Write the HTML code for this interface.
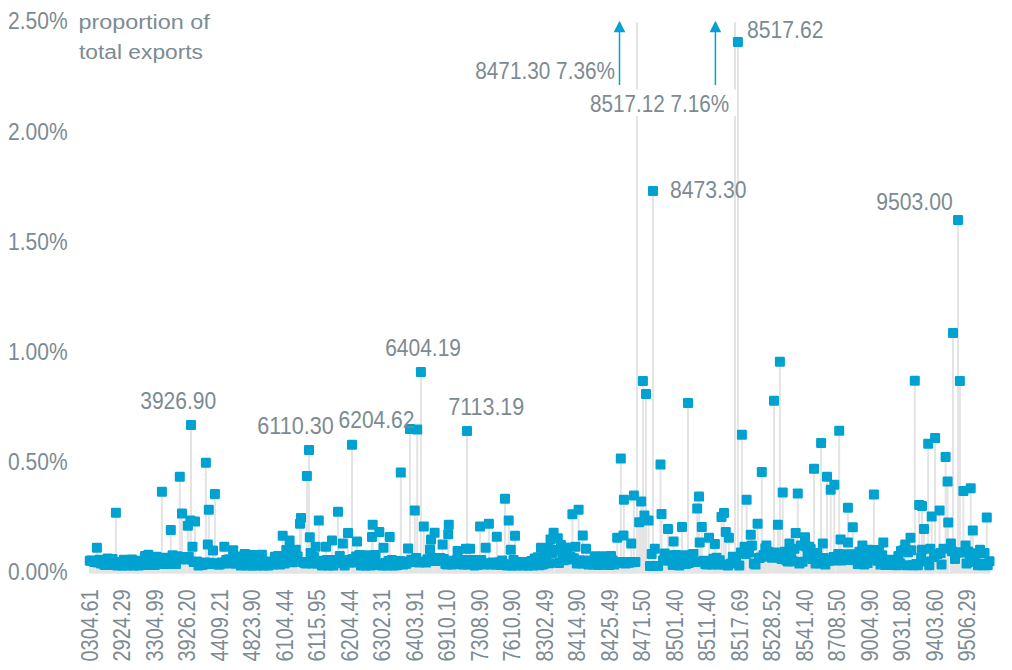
<!DOCTYPE html>
<html><head><meta charset="utf-8"><title>Proportion of total exports</title>
<style>
html,body{margin:0;padding:0;background:#fff;}
svg{display:block;}
text{font-family:"Liberation Sans",sans-serif;font-size:23.2px;fill:#7c8b92;}
</style></head>
<body>
<svg width="1012" height="670" viewBox="0 0 1012 670">
<rect width="1012" height="670" fill="#fff"/>
<path d="M89 573H990" stroke="#d9d9d9" stroke-width="1.2" fill="none"/>
<path d="M89.8 560.7V573M91.4 560.4V573M93 561.2V573M94.7 562.1V573M97.9 562.6V573M99.5 559.8V573M101.2 563.6V573M102.8 561.3V573M104.4 564.7V573M106 565.1V573M107.7 558.5V573M109.3 561.9V573M110.9 565.1V573M112.5 559.1V573M114.2 564.3V573M117.4 565.6V573M119 562.1V573M120.7 564.8V573M122.3 565.6V573M123.9 559.8V573M125.5 562.2V573M127.1 565.6V573M128.8 560.1V573M130.4 564.1V573M132 559.5V573M133.6 565.6V573M135.3 562.8V573M136.9 565V573M138.5 565.6V573M140.1 560.8V573M141.8 563.1V573M143.4 565.1V573M145 556V573M146.6 562.8V573M148.3 554.8V573M149.9 565.1V573M151.5 558.5V573M153.1 564.3V573M154.7 565.1V573M156.4 556.8V573M158 561V573M159.6 564.1V573M162.9 562.4V573M164.5 557.8V573M166.1 564.1V573M167.7 558.8V573M169.4 563.2V573M172.6 555.3V573M174.2 559.5V573M175.9 564.1V573M177.5 556.3V573M180.7 556.9V573M184 558.8V573M185.6 559.4V573M188.8 556.9V573M193.7 561.9V573M197 561.5V573M198.6 565.5V573M200.2 562.9V573M201.8 565.1V573M203.5 564.5V573M205.1 562.5V573M210 562.8V573M211.6 564.1V573M216.4 563.3V573M218.1 564.4V573M219.7 564.5V573M221.3 562.5V573M222.9 563.6V573M226.2 559.9V573M227.8 562.7V573M229.4 559.3V573M231.1 563.5V573M234.3 563V573M235.9 563.5V573M237.6 559.4V573M239.2 560.1V573M240.8 565.4V573M242.4 556.5V573M245.7 554.4V573M247.3 565.6V573M248.9 559.2V573M250.5 564.9V573M252.2 565.4V573M253.8 555.1V573M255.4 560.4V573M257 565.6V573M258.7 556.1V573M260.3 563.3V573M261.9 554.8V573M263.5 565.6V573M265.2 562.9V573M266.8 565.1V573M268.4 565.5V573M270 561.4V573M271.7 563.5V573M273.3 564.6V573M274.9 556.8V573M276.5 562.1V573M278.1 556V573M279.8 564.6V573M281.4 559.5V573M284.6 563.5V573M286.3 550V573M287.9 557.6V573M291.1 552.6V573M292.8 562.2V573M294.4 550.1V573M297.6 556.4V573M302.5 562V573M304.1 562.7V573M305.8 563.5V573M310.6 553V573M312.2 563.4V573M313.9 557.1V573M317.1 563.5V573M320.4 562.6V573M322 565.4V573M323.6 560.7V573M326.9 560V573M328.5 565.5V573M330.1 562.2V573M333.4 565.5V573M335 560V573M336.6 560.2V573M339.8 556.1V573M341.5 562.9V573M344.7 565.5V573M346.3 559.9V573M349.6 562.5V573M352.8 559V573M354.5 562.5V573M356.1 556.4V573M359.3 555.1V573M361 565.5V573M362.6 558.9V573M364.2 564.4V573M365.8 565.5V573M367.5 555.2V573M369.1 560.4V573M370.7 565.5V573M373.9 563.2V573M375.6 555V573M377.2 565.1V573M380.4 564.5V573M382.1 565.5V573M385.3 563V573M386.9 565.6V573M388.6 560.9V573M391.8 560.1V573M393.4 565.5V573M395.1 562.4V573M396.7 565.3V573M398.3 564.5V573M399.9 561V573M403.2 564.6V573M404.8 561.5V573M406.4 563.8V573M411.3 559.8V573M412.9 562V573M416.2 558V573M419.4 562.5V573M422.7 561.5V573M425.9 562.6V573M427.5 559.3V573M429.2 560.7V573M432.4 558V573M435.6 561V573M437.3 558.5V573M438.9 560.4V573M440.5 558V573M443.8 559.1V573M445.4 564V573M447 564.5V573M450.3 562.2V573M451.9 564.5V573M453.5 560.8V573M455.1 563.4V573M456.8 560.1V573M460 562V573M461.6 564.3V573M463.3 564.6V573M464.9 560.1V573M468.1 564.5V573M471.4 564V573M473 560V573M474.6 565.4V573M476.2 562V573M477.9 564.8V573M481.1 560.1V573M482.7 562.9V573M484.4 564.6V573M487.6 563.8V573M490.9 564.6V573M492.5 562.4V573M494.1 564.1V573M495.7 564.5V573M499 562.5V573M500.6 564.9V573M502.2 560.6V573M503.8 563.9V573M507.1 565.5V573M512 565.4V573M513.6 560V573M516.8 565.5V573M518.5 562.5V573M520.1 564.8V573M521.7 562V573M523.3 565.6V573M525 563.4V573M526.6 565.1V573M528.2 565.6V573M529.8 562V573M531.4 561V573M533.1 565.4V573M534.7 558.5V573M536.3 563.7V573M537.9 557.2V573M539.6 565.3V573M542.8 564.5V573M544.4 563.6V573M546.1 557V573M549.3 563.3V573M559 562.9V573M562.3 557.1V573M563.9 560.3V573M568.8 559.5V573M570.4 557.1V573M573.7 558.2V573M576.9 563.5V573M580.2 560.3V573M581.8 563.4V573M585 563V573M588.3 564.4V573M589.9 560.5V573M591.5 564.1V573M593.1 564.6V573M594.8 556.2V573M596.4 560.7V573M598 565V573M599.6 557.5V573M601.3 562.9V573M602.9 556.3V573M604.5 564.8V573M606.1 559.7V573M607.8 564.2V573M609.4 565V573M611 556V573M612.6 560.6V573M614.3 564.5V573M615.9 562.4V573M619.1 562V573M622.4 563V573M625.6 563.6V573M627.2 562V573M628.9 562.8V573M632.1 562.3V573M635.4 562V573M650 566V573M656.5 566V573M658.1 566V573M663 560.6V573M664.6 553.4V573M666.2 558.4V573M669.5 560.6V573M671.1 555.2V573M672.7 564.9V573M676 555V573M677.6 560.5V573M679.2 565.6V573M680.8 556.4V573M684.1 555.3V573M685.7 564.1V573M688.9 563V573M690.6 561.9V573M692.2 554.8V573M695.4 562V573M703.6 560.8V573M705.2 564V573M706.8 564.5V573M710.1 561.2V573M711.7 564.6V573M713.3 558.8V573M716.5 557.8V573M718.2 564.5V573M719.8 560.3V573M723 564.4V573M727.9 565.6V573M731.2 563.4V573M732.8 556.8V573M736 560.1V573M739.3 565.6V573M740.9 552.4V573M745.8 553.9V573M749 552.4V573M753.9 563.6V573M755.5 564.6V573M758.8 558.1V573M760.4 557.5V573M763.6 555V573M765.3 548.3V573M768.5 551.7V573M770.1 556.6V573M771.8 557.7V573M775 552.6V573M776.6 557.3V573M781.5 558.9V573M784.7 551.7V573M786.4 560.2V573M788 561.6V573M791.2 553.2V573M792.9 561.2V573M794.5 548.8V573M799.4 563.6V573M802.6 561.8V573M805.9 546.2V573M807.5 555.2V573M810.7 548.9V573M812.3 558.9V573M815.6 563.6V573M817.2 553V573M818.8 563.2V573M823.7 557.9V573M825.3 564.6V573M828.6 560.8V573M831.8 560.6V573M833.5 556.9V573M836.7 560.3V573M838.3 554V573M841.6 560.4V573M843.2 555.2V573M844.8 559.1V573M846.4 554.2V573M849.7 556.5V573M851.3 560.1V573M854.6 554.2V573M856.2 557.4V573M857.8 564.1V573M859.4 551.8V573M861.1 561.2V573M864.3 564.6V573M865.9 555.4V573M867.6 563.1V573M870.8 550V573M872.4 557.8V573M875.7 552.7V573M877.3 560.7V573M878.9 550.1V573M880.5 564.6V573M882.2 555.3V573M885.4 565.1V573M887 559.8V573M888.7 562.7V573M890.3 565V573M891.9 560.8V573M893.5 563.7V573M895.2 559.8V573M896.8 565.2V573M898.4 556V573M900 563.2V573M903.3 550.3V573M906.5 565.2V573M908.1 552.2V573M911.4 550.3V573M913 565.2V573M916.3 564.1V573M917.9 565.2V573M921.1 557.7V573M926 561.5V573M929.3 565.2V573M934.1 557.1V573M937.4 554.2V573M940.6 553.1V573M952 551.2V573M956.9 552.4V573M961.7 552.6V573M966.6 563.5V573M968.2 551.5V573M969.8 557V573M974.7 562.1V573M976.3 553.3V573M978 565.2V573M981.2 563.6V573M982.8 565.2V573M984.5 553V573M987.7 565.2V573M96.9 547.7V573M115.9 512.7V573M161.9 491.8V573M170.8 530V573M179.8 476.8V573M182 513.6V573M205.9 462.8V573M214.9 493.9V573M208.8 509.7V573M187.9 525.8V573M190.4 520.6V573M195 521.6V573M192.5 546.7V573M207.8 544.6V573M213 550.5V573M224.3 546.7V573M233.2 550.2V573M244.7 554V573M191 425V573M309 450V573M306.9 475.9V573M352 444.8V573M338 511.8V573M301 517.9V573M300 523.7V573M318.8 520.6V573M282.7 535.8V573M289.6 540.4V573M309.8 537.3V573M315.7 546.7V573M326 546.7V573M332 540.4V573M342.8 543.6V573M348 533.1V573M357 541.5V573M372.7 524.8V573M372 536.9V573M295.8 549.8V573M400.8 472.6V573M414.8 510.6V573M423.8 526.4V573M434.6 532.7V573M431 539.4V573M448.8 524.8V573M448.2 534.2V573M442.6 544.6V573M379.3 532V573M389.7 536.9V573M383.5 547.7V573M408 548.4V573M430 549.4V573M466 548.8V573M457.6 550.9V573M410 429V573M417.2 429.6V573M420.9 372V573M467 431V573M505 498.7V573M508.7 520.6V573M480.1 526.4V573M488.9 523.7V573M496.8 536.7V573M515 535.8V573M485.7 547.7V573M510.8 549.8V573M553.6 532.7V573M557.8 538.3V573M550.5 539.4V573M541 547.7V573M565 547.7V573M470 548.8V573M620.8 458.6V573M660.5 464.6V573M623.9 499.7V573M633.9 495.5V573M641.2 501.4V573M644.4 515.4V573M639.2 522.3V573M648.6 520.6V573M661.5 513.9V573M572.4 514.3V573M578.6 509.7V573M582.8 535.6V573M617.2 537.7V573M623.5 535.6V573M631.2 543.6V573M654.8 548.8V573M567 547.7V573M575.5 546.7V573M586 548.8V573M642.9 380.9V573M646 394V573M653 190.9V573M737.9 42V573M668 529V573M673.6 541.5V573M682 526.9V573M699 496.6V573M697.2 508.5V573M701.8 526.9V573M699.7 542.5V573M709 537.7V573M714.9 544V573M721.5 517V573M724 513V573M725.8 532V573M728.9 537.7V573M746.6 499.7V573M750.8 534.8V573M744.6 546.7V573M751.9 545.6V573M757.6 523.7V573M741.9 434.8V573M688 402.9V573M693.4 554V573M761.8 472V573M782.7 492.4V573M797.8 493.5V573M814 468.8V573M821.1 443V573M827 476.8V573M834.3 484.7V573M830.7 489.7V573M847.9 507.7V573M852.8 527.2V573M777.9 524.8V573M795.7 533.1V573M805 537.3V573M789.4 543.6V573M800.9 545.6V573M809.2 546.7V573M822.8 543.6V573M840.6 539.4V573M847.9 542.5V573M766.4 545.6V573M774 400.8V573M779.9 361.8V573M839.2 430.7V573M873.9 494.5V573M928.2 443.8V573M935.1 438.1V573M945.6 456.9V573M947.6 481.5V573M919.2 505V573M922 506V573M931.7 516.6V573M939.6 510.6V573M948.2 522.5V573M924 529V573M883.3 542.5V573M910.5 537.7V573M905.2 544.6V573M901 550.9V573M922 549.8V573M930.3 548.8V573M943.5 548.8V573M862.4 545.6V573M868.7 549.8V573M914.8 380.8V573M963.4 491V573M970.7 488.2V573M986.8 517.5V573M972.8 530.6V573M950.9 543.6V573M965.5 545.6V573M980 549.8V573M953 333V573M958 220V573M959.9 381V573M955 559V573M989.5 561.3V573M941.5 564.4V573M651.7 554V573M548 548V573M556 550V573M561 545V573M552 553V573M637 22.3V573M735 22.3V573" stroke="#e4e4e4" stroke-width="2" fill="none"/>
<g fill="#00a2d1">
<rect x="84.8" y="555.7" width="10" height="10" rx="1.2"/><rect x="86.4" y="555.4" width="10" height="10" rx="1.2"/><rect x="88" y="556.2" width="10" height="10" rx="1.2"/><rect x="89.7" y="557.1" width="10" height="10" rx="1.2"/><rect x="92.9" y="557.6" width="10" height="10" rx="1.2"/><rect x="94.5" y="554.8" width="10" height="10" rx="1.2"/><rect x="96.2" y="558.6" width="10" height="10" rx="1.2"/><rect x="97.8" y="556.3" width="10" height="10" rx="1.2"/><rect x="99.4" y="559.7" width="10" height="10" rx="1.2"/><rect x="101" y="560.1" width="10" height="10" rx="1.2"/><rect x="102.7" y="553.5" width="10" height="10" rx="1.2"/><rect x="104.3" y="556.9" width="10" height="10" rx="1.2"/><rect x="105.9" y="560.1" width="10" height="10" rx="1.2"/><rect x="107.5" y="554.1" width="10" height="10" rx="1.2"/><rect x="109.2" y="559.3" width="10" height="10" rx="1.2"/><rect x="112.4" y="560.6" width="10" height="10" rx="1.2"/><rect x="114" y="557.1" width="10" height="10" rx="1.2"/><rect x="115.7" y="559.8" width="10" height="10" rx="1.2"/><rect x="117.3" y="560.6" width="10" height="10" rx="1.2"/><rect x="118.9" y="554.8" width="10" height="10" rx="1.2"/><rect x="120.5" y="557.2" width="10" height="10" rx="1.2"/><rect x="122.1" y="560.6" width="10" height="10" rx="1.2"/><rect x="123.8" y="555.1" width="10" height="10" rx="1.2"/><rect x="125.4" y="559.1" width="10" height="10" rx="1.2"/><rect x="127" y="554.5" width="10" height="10" rx="1.2"/><rect x="128.6" y="560.6" width="10" height="10" rx="1.2"/><rect x="130.3" y="557.8" width="10" height="10" rx="1.2"/><rect x="131.9" y="560" width="10" height="10" rx="1.2"/><rect x="133.5" y="560.6" width="10" height="10" rx="1.2"/><rect x="135.1" y="555.8" width="10" height="10" rx="1.2"/><rect x="136.8" y="558.1" width="10" height="10" rx="1.2"/><rect x="138.4" y="560.1" width="10" height="10" rx="1.2"/><rect x="140" y="551" width="10" height="10" rx="1.2"/><rect x="141.6" y="557.8" width="10" height="10" rx="1.2"/><rect x="143.3" y="549.8" width="10" height="10" rx="1.2"/><rect x="144.9" y="560.1" width="10" height="10" rx="1.2"/><rect x="146.5" y="553.5" width="10" height="10" rx="1.2"/><rect x="148.1" y="559.3" width="10" height="10" rx="1.2"/><rect x="149.7" y="560.1" width="10" height="10" rx="1.2"/><rect x="151.4" y="551.8" width="10" height="10" rx="1.2"/><rect x="153" y="556" width="10" height="10" rx="1.2"/><rect x="154.6" y="559.1" width="10" height="10" rx="1.2"/><rect x="157.9" y="557.4" width="10" height="10" rx="1.2"/><rect x="159.5" y="552.8" width="10" height="10" rx="1.2"/><rect x="161.1" y="559.1" width="10" height="10" rx="1.2"/><rect x="162.7" y="553.8" width="10" height="10" rx="1.2"/><rect x="164.4" y="558.2" width="10" height="10" rx="1.2"/><rect x="167.6" y="550.3" width="10" height="10" rx="1.2"/><rect x="169.2" y="554.5" width="10" height="10" rx="1.2"/><rect x="170.9" y="559.1" width="10" height="10" rx="1.2"/><rect x="172.5" y="551.3" width="10" height="10" rx="1.2"/><rect x="175.7" y="551.9" width="10" height="10" rx="1.2"/><rect x="179" y="553.8" width="10" height="10" rx="1.2"/><rect x="180.6" y="554.4" width="10" height="10" rx="1.2"/><rect x="183.8" y="551.9" width="10" height="10" rx="1.2"/><rect x="188.7" y="556.9" width="10" height="10" rx="1.2"/><rect x="192" y="556.5" width="10" height="10" rx="1.2"/><rect x="193.6" y="560.5" width="10" height="10" rx="1.2"/><rect x="195.2" y="557.9" width="10" height="10" rx="1.2"/><rect x="196.8" y="560.1" width="10" height="10" rx="1.2"/><rect x="198.5" y="559.5" width="10" height="10" rx="1.2"/><rect x="200.1" y="557.5" width="10" height="10" rx="1.2"/><rect x="205" y="557.8" width="10" height="10" rx="1.2"/><rect x="206.6" y="559.1" width="10" height="10" rx="1.2"/><rect x="211.4" y="558.3" width="10" height="10" rx="1.2"/><rect x="213.1" y="559.4" width="10" height="10" rx="1.2"/><rect x="214.7" y="559.5" width="10" height="10" rx="1.2"/><rect x="216.3" y="557.5" width="10" height="10" rx="1.2"/><rect x="217.9" y="558.6" width="10" height="10" rx="1.2"/><rect x="221.2" y="554.9" width="10" height="10" rx="1.2"/><rect x="222.8" y="557.7" width="10" height="10" rx="1.2"/><rect x="224.4" y="554.3" width="10" height="10" rx="1.2"/><rect x="226.1" y="558.5" width="10" height="10" rx="1.2"/><rect x="229.3" y="558" width="10" height="10" rx="1.2"/><rect x="230.9" y="558.5" width="10" height="10" rx="1.2"/><rect x="232.6" y="554.4" width="10" height="10" rx="1.2"/><rect x="234.2" y="555.1" width="10" height="10" rx="1.2"/><rect x="235.8" y="560.4" width="10" height="10" rx="1.2"/><rect x="237.4" y="551.5" width="10" height="10" rx="1.2"/><rect x="240.7" y="549.4" width="10" height="10" rx="1.2"/><rect x="242.3" y="560.6" width="10" height="10" rx="1.2"/><rect x="243.9" y="554.2" width="10" height="10" rx="1.2"/><rect x="245.5" y="559.9" width="10" height="10" rx="1.2"/><rect x="247.2" y="560.4" width="10" height="10" rx="1.2"/><rect x="248.8" y="550.1" width="10" height="10" rx="1.2"/><rect x="250.4" y="555.4" width="10" height="10" rx="1.2"/><rect x="252" y="560.6" width="10" height="10" rx="1.2"/><rect x="253.7" y="551.1" width="10" height="10" rx="1.2"/><rect x="255.3" y="558.3" width="10" height="10" rx="1.2"/><rect x="256.9" y="549.8" width="10" height="10" rx="1.2"/><rect x="258.5" y="560.6" width="10" height="10" rx="1.2"/><rect x="260.2" y="557.9" width="10" height="10" rx="1.2"/><rect x="261.8" y="560.1" width="10" height="10" rx="1.2"/><rect x="263.4" y="560.5" width="10" height="10" rx="1.2"/><rect x="265" y="556.4" width="10" height="10" rx="1.2"/><rect x="266.7" y="558.5" width="10" height="10" rx="1.2"/><rect x="268.3" y="559.6" width="10" height="10" rx="1.2"/><rect x="269.9" y="551.8" width="10" height="10" rx="1.2"/><rect x="271.5" y="557.1" width="10" height="10" rx="1.2"/><rect x="273.1" y="551" width="10" height="10" rx="1.2"/><rect x="274.8" y="559.6" width="10" height="10" rx="1.2"/><rect x="276.4" y="554.5" width="10" height="10" rx="1.2"/><rect x="279.6" y="558.5" width="10" height="10" rx="1.2"/><rect x="281.3" y="545" width="10" height="10" rx="1.2"/><rect x="282.9" y="552.6" width="10" height="10" rx="1.2"/><rect x="286.1" y="547.6" width="10" height="10" rx="1.2"/><rect x="287.8" y="557.2" width="10" height="10" rx="1.2"/><rect x="289.4" y="545.1" width="10" height="10" rx="1.2"/><rect x="292.6" y="551.4" width="10" height="10" rx="1.2"/><rect x="297.5" y="557" width="10" height="10" rx="1.2"/><rect x="299.1" y="557.7" width="10" height="10" rx="1.2"/><rect x="300.8" y="558.5" width="10" height="10" rx="1.2"/><rect x="305.6" y="548" width="10" height="10" rx="1.2"/><rect x="307.2" y="558.4" width="10" height="10" rx="1.2"/><rect x="308.9" y="552.1" width="10" height="10" rx="1.2"/><rect x="312.1" y="558.5" width="10" height="10" rx="1.2"/><rect x="315.4" y="557.6" width="10" height="10" rx="1.2"/><rect x="317" y="560.4" width="10" height="10" rx="1.2"/><rect x="318.6" y="555.7" width="10" height="10" rx="1.2"/><rect x="321.9" y="555" width="10" height="10" rx="1.2"/><rect x="323.5" y="560.5" width="10" height="10" rx="1.2"/><rect x="325.1" y="557.2" width="10" height="10" rx="1.2"/><rect x="328.4" y="560.5" width="10" height="10" rx="1.2"/><rect x="330" y="555" width="10" height="10" rx="1.2"/><rect x="331.6" y="555.2" width="10" height="10" rx="1.2"/><rect x="334.8" y="551.1" width="10" height="10" rx="1.2"/><rect x="336.5" y="557.9" width="10" height="10" rx="1.2"/><rect x="339.7" y="560.5" width="10" height="10" rx="1.2"/><rect x="341.3" y="554.9" width="10" height="10" rx="1.2"/><rect x="344.6" y="557.5" width="10" height="10" rx="1.2"/><rect x="347.8" y="554" width="10" height="10" rx="1.2"/><rect x="349.5" y="557.5" width="10" height="10" rx="1.2"/><rect x="351.1" y="551.4" width="10" height="10" rx="1.2"/><rect x="354.3" y="550.1" width="10" height="10" rx="1.2"/><rect x="356" y="560.5" width="10" height="10" rx="1.2"/><rect x="357.6" y="553.9" width="10" height="10" rx="1.2"/><rect x="359.2" y="559.4" width="10" height="10" rx="1.2"/><rect x="360.8" y="560.5" width="10" height="10" rx="1.2"/><rect x="362.5" y="550.2" width="10" height="10" rx="1.2"/><rect x="364.1" y="555.4" width="10" height="10" rx="1.2"/><rect x="365.7" y="560.5" width="10" height="10" rx="1.2"/><rect x="368.9" y="558.2" width="10" height="10" rx="1.2"/><rect x="370.6" y="550" width="10" height="10" rx="1.2"/><rect x="372.2" y="560.1" width="10" height="10" rx="1.2"/><rect x="375.4" y="559.5" width="10" height="10" rx="1.2"/><rect x="377.1" y="560.5" width="10" height="10" rx="1.2"/><rect x="380.3" y="558" width="10" height="10" rx="1.2"/><rect x="381.9" y="560.6" width="10" height="10" rx="1.2"/><rect x="383.6" y="555.9" width="10" height="10" rx="1.2"/><rect x="386.8" y="555.1" width="10" height="10" rx="1.2"/><rect x="388.4" y="560.5" width="10" height="10" rx="1.2"/><rect x="390.1" y="557.4" width="10" height="10" rx="1.2"/><rect x="391.7" y="560.3" width="10" height="10" rx="1.2"/><rect x="393.3" y="559.5" width="10" height="10" rx="1.2"/><rect x="394.9" y="556" width="10" height="10" rx="1.2"/><rect x="398.2" y="559.6" width="10" height="10" rx="1.2"/><rect x="399.8" y="556.5" width="10" height="10" rx="1.2"/><rect x="401.4" y="558.8" width="10" height="10" rx="1.2"/><rect x="406.3" y="554.8" width="10" height="10" rx="1.2"/><rect x="407.9" y="557" width="10" height="10" rx="1.2"/><rect x="411.2" y="553" width="10" height="10" rx="1.2"/><rect x="414.4" y="557.5" width="10" height="10" rx="1.2"/><rect x="417.7" y="556.5" width="10" height="10" rx="1.2"/><rect x="420.9" y="557.6" width="10" height="10" rx="1.2"/><rect x="422.5" y="554.3" width="10" height="10" rx="1.2"/><rect x="424.2" y="555.7" width="10" height="10" rx="1.2"/><rect x="427.4" y="553" width="10" height="10" rx="1.2"/><rect x="430.6" y="556" width="10" height="10" rx="1.2"/><rect x="432.3" y="553.5" width="10" height="10" rx="1.2"/><rect x="433.9" y="555.4" width="10" height="10" rx="1.2"/><rect x="435.5" y="553" width="10" height="10" rx="1.2"/><rect x="438.8" y="554.1" width="10" height="10" rx="1.2"/><rect x="440.4" y="559" width="10" height="10" rx="1.2"/><rect x="442" y="559.5" width="10" height="10" rx="1.2"/><rect x="445.3" y="557.2" width="10" height="10" rx="1.2"/><rect x="446.9" y="559.5" width="10" height="10" rx="1.2"/><rect x="448.5" y="555.8" width="10" height="10" rx="1.2"/><rect x="450.1" y="558.4" width="10" height="10" rx="1.2"/><rect x="451.8" y="555.1" width="10" height="10" rx="1.2"/><rect x="455" y="557" width="10" height="10" rx="1.2"/><rect x="456.6" y="559.3" width="10" height="10" rx="1.2"/><rect x="458.3" y="559.6" width="10" height="10" rx="1.2"/><rect x="459.9" y="555.1" width="10" height="10" rx="1.2"/><rect x="463.1" y="559.5" width="10" height="10" rx="1.2"/><rect x="466.4" y="559" width="10" height="10" rx="1.2"/><rect x="468" y="555" width="10" height="10" rx="1.2"/><rect x="469.6" y="560.4" width="10" height="10" rx="1.2"/><rect x="471.2" y="557" width="10" height="10" rx="1.2"/><rect x="472.9" y="559.8" width="10" height="10" rx="1.2"/><rect x="476.1" y="555.1" width="10" height="10" rx="1.2"/><rect x="477.7" y="557.9" width="10" height="10" rx="1.2"/><rect x="479.4" y="559.6" width="10" height="10" rx="1.2"/><rect x="482.6" y="558.8" width="10" height="10" rx="1.2"/><rect x="485.9" y="559.6" width="10" height="10" rx="1.2"/><rect x="487.5" y="557.4" width="10" height="10" rx="1.2"/><rect x="489.1" y="559.1" width="10" height="10" rx="1.2"/><rect x="490.7" y="559.5" width="10" height="10" rx="1.2"/><rect x="494" y="557.5" width="10" height="10" rx="1.2"/><rect x="495.6" y="559.9" width="10" height="10" rx="1.2"/><rect x="497.2" y="555.6" width="10" height="10" rx="1.2"/><rect x="498.8" y="558.9" width="10" height="10" rx="1.2"/><rect x="502.1" y="560.5" width="10" height="10" rx="1.2"/><rect x="507" y="560.4" width="10" height="10" rx="1.2"/><rect x="508.6" y="555" width="10" height="10" rx="1.2"/><rect x="511.8" y="560.5" width="10" height="10" rx="1.2"/><rect x="513.5" y="557.5" width="10" height="10" rx="1.2"/><rect x="515.1" y="559.8" width="10" height="10" rx="1.2"/><rect x="516.7" y="557" width="10" height="10" rx="1.2"/><rect x="518.3" y="560.6" width="10" height="10" rx="1.2"/><rect x="520" y="558.4" width="10" height="10" rx="1.2"/><rect x="521.6" y="560.1" width="10" height="10" rx="1.2"/><rect x="523.2" y="560.6" width="10" height="10" rx="1.2"/><rect x="524.8" y="557" width="10" height="10" rx="1.2"/><rect x="526.4" y="556" width="10" height="10" rx="1.2"/><rect x="528.1" y="560.4" width="10" height="10" rx="1.2"/><rect x="529.7" y="553.5" width="10" height="10" rx="1.2"/><rect x="531.3" y="558.7" width="10" height="10" rx="1.2"/><rect x="532.9" y="552.2" width="10" height="10" rx="1.2"/><rect x="534.6" y="560.3" width="10" height="10" rx="1.2"/><rect x="537.8" y="559.5" width="10" height="10" rx="1.2"/><rect x="539.4" y="558.6" width="10" height="10" rx="1.2"/><rect x="541.1" y="552" width="10" height="10" rx="1.2"/><rect x="544.3" y="558.3" width="10" height="10" rx="1.2"/><rect x="554" y="557.9" width="10" height="10" rx="1.2"/><rect x="557.3" y="552.1" width="10" height="10" rx="1.2"/><rect x="558.9" y="555.3" width="10" height="10" rx="1.2"/><rect x="563.8" y="554.5" width="10" height="10" rx="1.2"/><rect x="565.4" y="552.1" width="10" height="10" rx="1.2"/><rect x="568.7" y="553.2" width="10" height="10" rx="1.2"/><rect x="571.9" y="558.5" width="10" height="10" rx="1.2"/><rect x="575.2" y="555.3" width="10" height="10" rx="1.2"/><rect x="576.8" y="558.4" width="10" height="10" rx="1.2"/><rect x="580" y="558" width="10" height="10" rx="1.2"/><rect x="583.3" y="559.4" width="10" height="10" rx="1.2"/><rect x="584.9" y="555.5" width="10" height="10" rx="1.2"/><rect x="586.5" y="559.1" width="10" height="10" rx="1.2"/><rect x="588.1" y="559.6" width="10" height="10" rx="1.2"/><rect x="589.8" y="551.2" width="10" height="10" rx="1.2"/><rect x="591.4" y="555.7" width="10" height="10" rx="1.2"/><rect x="593" y="560" width="10" height="10" rx="1.2"/><rect x="594.6" y="552.5" width="10" height="10" rx="1.2"/><rect x="596.3" y="557.9" width="10" height="10" rx="1.2"/><rect x="597.9" y="551.3" width="10" height="10" rx="1.2"/><rect x="599.5" y="559.8" width="10" height="10" rx="1.2"/><rect x="601.1" y="554.7" width="10" height="10" rx="1.2"/><rect x="602.8" y="559.2" width="10" height="10" rx="1.2"/><rect x="604.4" y="560" width="10" height="10" rx="1.2"/><rect x="606" y="551" width="10" height="10" rx="1.2"/><rect x="607.6" y="555.6" width="10" height="10" rx="1.2"/><rect x="609.3" y="559.5" width="10" height="10" rx="1.2"/><rect x="610.9" y="557.4" width="10" height="10" rx="1.2"/><rect x="614.1" y="557" width="10" height="10" rx="1.2"/><rect x="617.4" y="558" width="10" height="10" rx="1.2"/><rect x="620.6" y="558.6" width="10" height="10" rx="1.2"/><rect x="622.2" y="557" width="10" height="10" rx="1.2"/><rect x="623.9" y="557.8" width="10" height="10" rx="1.2"/><rect x="627.1" y="557.3" width="10" height="10" rx="1.2"/><rect x="630.4" y="557" width="10" height="10" rx="1.2"/><rect x="645" y="561" width="10" height="10" rx="1.2"/><rect x="651.5" y="561" width="10" height="10" rx="1.2"/><rect x="653.1" y="561" width="10" height="10" rx="1.2"/><rect x="658" y="555.6" width="10" height="10" rx="1.2"/><rect x="659.6" y="548.4" width="10" height="10" rx="1.2"/><rect x="661.2" y="553.4" width="10" height="10" rx="1.2"/><rect x="664.5" y="555.6" width="10" height="10" rx="1.2"/><rect x="666.1" y="550.2" width="10" height="10" rx="1.2"/><rect x="667.7" y="559.9" width="10" height="10" rx="1.2"/><rect x="671" y="550" width="10" height="10" rx="1.2"/><rect x="672.6" y="555.5" width="10" height="10" rx="1.2"/><rect x="674.2" y="560.6" width="10" height="10" rx="1.2"/><rect x="675.8" y="551.4" width="10" height="10" rx="1.2"/><rect x="679.1" y="550.3" width="10" height="10" rx="1.2"/><rect x="680.7" y="559.1" width="10" height="10" rx="1.2"/><rect x="683.9" y="558" width="10" height="10" rx="1.2"/><rect x="685.6" y="556.9" width="10" height="10" rx="1.2"/><rect x="687.2" y="549.8" width="10" height="10" rx="1.2"/><rect x="690.4" y="557" width="10" height="10" rx="1.2"/><rect x="698.6" y="555.8" width="10" height="10" rx="1.2"/><rect x="700.2" y="559" width="10" height="10" rx="1.2"/><rect x="701.8" y="559.5" width="10" height="10" rx="1.2"/><rect x="705.1" y="556.2" width="10" height="10" rx="1.2"/><rect x="706.7" y="559.6" width="10" height="10" rx="1.2"/><rect x="708.3" y="553.8" width="10" height="10" rx="1.2"/><rect x="711.5" y="552.8" width="10" height="10" rx="1.2"/><rect x="713.2" y="559.5" width="10" height="10" rx="1.2"/><rect x="714.8" y="555.3" width="10" height="10" rx="1.2"/><rect x="718" y="559.4" width="10" height="10" rx="1.2"/><rect x="722.9" y="560.6" width="10" height="10" rx="1.2"/><rect x="726.2" y="558.4" width="10" height="10" rx="1.2"/><rect x="727.8" y="551.8" width="10" height="10" rx="1.2"/><rect x="731" y="555.1" width="10" height="10" rx="1.2"/><rect x="734.3" y="560.6" width="10" height="10" rx="1.2"/><rect x="735.9" y="547.4" width="10" height="10" rx="1.2"/><rect x="740.8" y="548.9" width="10" height="10" rx="1.2"/><rect x="744" y="547.4" width="10" height="10" rx="1.2"/><rect x="748.9" y="558.6" width="10" height="10" rx="1.2"/><rect x="750.5" y="559.6" width="10" height="10" rx="1.2"/><rect x="753.8" y="553.1" width="10" height="10" rx="1.2"/><rect x="755.4" y="552.5" width="10" height="10" rx="1.2"/><rect x="758.6" y="550" width="10" height="10" rx="1.2"/><rect x="760.3" y="543.3" width="10" height="10" rx="1.2"/><rect x="763.5" y="546.7" width="10" height="10" rx="1.2"/><rect x="765.1" y="551.6" width="10" height="10" rx="1.2"/><rect x="766.8" y="552.7" width="10" height="10" rx="1.2"/><rect x="770" y="547.6" width="10" height="10" rx="1.2"/><rect x="771.6" y="552.3" width="10" height="10" rx="1.2"/><rect x="776.5" y="553.9" width="10" height="10" rx="1.2"/><rect x="779.7" y="546.7" width="10" height="10" rx="1.2"/><rect x="781.4" y="555.2" width="10" height="10" rx="1.2"/><rect x="783" y="556.6" width="10" height="10" rx="1.2"/><rect x="786.2" y="548.2" width="10" height="10" rx="1.2"/><rect x="787.9" y="556.2" width="10" height="10" rx="1.2"/><rect x="789.5" y="543.8" width="10" height="10" rx="1.2"/><rect x="794.4" y="558.6" width="10" height="10" rx="1.2"/><rect x="797.6" y="556.8" width="10" height="10" rx="1.2"/><rect x="800.9" y="541.2" width="10" height="10" rx="1.2"/><rect x="802.5" y="550.2" width="10" height="10" rx="1.2"/><rect x="805.7" y="543.9" width="10" height="10" rx="1.2"/><rect x="807.3" y="553.9" width="10" height="10" rx="1.2"/><rect x="810.6" y="558.6" width="10" height="10" rx="1.2"/><rect x="812.2" y="548" width="10" height="10" rx="1.2"/><rect x="813.8" y="558.2" width="10" height="10" rx="1.2"/><rect x="818.7" y="552.9" width="10" height="10" rx="1.2"/><rect x="820.3" y="559.6" width="10" height="10" rx="1.2"/><rect x="823.6" y="555.8" width="10" height="10" rx="1.2"/><rect x="826.8" y="555.6" width="10" height="10" rx="1.2"/><rect x="828.5" y="551.9" width="10" height="10" rx="1.2"/><rect x="831.7" y="555.3" width="10" height="10" rx="1.2"/><rect x="833.3" y="549" width="10" height="10" rx="1.2"/><rect x="836.6" y="555.4" width="10" height="10" rx="1.2"/><rect x="838.2" y="550.2" width="10" height="10" rx="1.2"/><rect x="839.8" y="554.1" width="10" height="10" rx="1.2"/><rect x="841.4" y="549.2" width="10" height="10" rx="1.2"/><rect x="844.7" y="551.5" width="10" height="10" rx="1.2"/><rect x="846.3" y="555.1" width="10" height="10" rx="1.2"/><rect x="849.6" y="549.2" width="10" height="10" rx="1.2"/><rect x="851.2" y="552.4" width="10" height="10" rx="1.2"/><rect x="852.8" y="559.1" width="10" height="10" rx="1.2"/><rect x="854.4" y="546.8" width="10" height="10" rx="1.2"/><rect x="856.1" y="556.2" width="10" height="10" rx="1.2"/><rect x="859.3" y="559.6" width="10" height="10" rx="1.2"/><rect x="860.9" y="550.4" width="10" height="10" rx="1.2"/><rect x="862.6" y="558.1" width="10" height="10" rx="1.2"/><rect x="865.8" y="545" width="10" height="10" rx="1.2"/><rect x="867.4" y="552.8" width="10" height="10" rx="1.2"/><rect x="870.7" y="547.7" width="10" height="10" rx="1.2"/><rect x="872.3" y="555.7" width="10" height="10" rx="1.2"/><rect x="873.9" y="545.1" width="10" height="10" rx="1.2"/><rect x="875.5" y="559.6" width="10" height="10" rx="1.2"/><rect x="877.2" y="550.3" width="10" height="10" rx="1.2"/><rect x="880.4" y="560.1" width="10" height="10" rx="1.2"/><rect x="882" y="554.8" width="10" height="10" rx="1.2"/><rect x="883.7" y="557.7" width="10" height="10" rx="1.2"/><rect x="885.3" y="560" width="10" height="10" rx="1.2"/><rect x="886.9" y="555.8" width="10" height="10" rx="1.2"/><rect x="888.5" y="558.7" width="10" height="10" rx="1.2"/><rect x="890.2" y="554.8" width="10" height="10" rx="1.2"/><rect x="891.8" y="560.2" width="10" height="10" rx="1.2"/><rect x="893.4" y="551" width="10" height="10" rx="1.2"/><rect x="895" y="558.2" width="10" height="10" rx="1.2"/><rect x="898.3" y="545.3" width="10" height="10" rx="1.2"/><rect x="901.5" y="560.2" width="10" height="10" rx="1.2"/><rect x="903.1" y="547.2" width="10" height="10" rx="1.2"/><rect x="906.4" y="545.3" width="10" height="10" rx="1.2"/><rect x="908" y="560.2" width="10" height="10" rx="1.2"/><rect x="911.3" y="559.1" width="10" height="10" rx="1.2"/><rect x="912.9" y="560.2" width="10" height="10" rx="1.2"/><rect x="916.1" y="552.7" width="10" height="10" rx="1.2"/><rect x="921" y="556.5" width="10" height="10" rx="1.2"/><rect x="924.3" y="560.2" width="10" height="10" rx="1.2"/><rect x="929.1" y="552.1" width="10" height="10" rx="1.2"/><rect x="932.4" y="549.2" width="10" height="10" rx="1.2"/><rect x="935.6" y="548.1" width="10" height="10" rx="1.2"/><rect x="947" y="546.2" width="10" height="10" rx="1.2"/><rect x="951.9" y="547.4" width="10" height="10" rx="1.2"/><rect x="956.7" y="547.6" width="10" height="10" rx="1.2"/><rect x="961.6" y="558.5" width="10" height="10" rx="1.2"/><rect x="963.2" y="546.5" width="10" height="10" rx="1.2"/><rect x="964.8" y="552" width="10" height="10" rx="1.2"/><rect x="969.7" y="557.1" width="10" height="10" rx="1.2"/><rect x="971.3" y="548.3" width="10" height="10" rx="1.2"/><rect x="973" y="560.2" width="10" height="10" rx="1.2"/><rect x="976.2" y="558.6" width="10" height="10" rx="1.2"/><rect x="977.8" y="560.2" width="10" height="10" rx="1.2"/><rect x="979.5" y="548" width="10" height="10" rx="1.2"/><rect x="982.7" y="560.2" width="10" height="10" rx="1.2"/><rect x="91.9" y="542.7" width="10" height="10" rx="1.2"/><rect x="110.9" y="507.7" width="10" height="10" rx="1.2"/><rect x="156.9" y="486.8" width="10" height="10" rx="1.2"/><rect x="165.8" y="525" width="10" height="10" rx="1.2"/><rect x="174.8" y="471.8" width="10" height="10" rx="1.2"/><rect x="177" y="508.6" width="10" height="10" rx="1.2"/><rect x="200.9" y="457.8" width="10" height="10" rx="1.2"/><rect x="209.9" y="488.9" width="10" height="10" rx="1.2"/><rect x="203.8" y="504.7" width="10" height="10" rx="1.2"/><rect x="182.9" y="520.8" width="10" height="10" rx="1.2"/><rect x="185.4" y="515.6" width="10" height="10" rx="1.2"/><rect x="190" y="516.6" width="10" height="10" rx="1.2"/><rect x="187.5" y="541.7" width="10" height="10" rx="1.2"/><rect x="202.8" y="539.6" width="10" height="10" rx="1.2"/><rect x="208" y="545.5" width="10" height="10" rx="1.2"/><rect x="219.3" y="541.7" width="10" height="10" rx="1.2"/><rect x="228.2" y="545.2" width="10" height="10" rx="1.2"/><rect x="239.7" y="549" width="10" height="10" rx="1.2"/><rect x="186" y="420" width="10" height="10" rx="1.2"/><rect x="304" y="445" width="10" height="10" rx="1.2"/><rect x="301.9" y="470.9" width="10" height="10" rx="1.2"/><rect x="347" y="439.8" width="10" height="10" rx="1.2"/><rect x="333" y="506.8" width="10" height="10" rx="1.2"/><rect x="296" y="512.9" width="10" height="10" rx="1.2"/><rect x="295" y="518.7" width="10" height="10" rx="1.2"/><rect x="313.8" y="515.6" width="10" height="10" rx="1.2"/><rect x="277.7" y="530.8" width="10" height="10" rx="1.2"/><rect x="284.6" y="535.4" width="10" height="10" rx="1.2"/><rect x="304.8" y="532.3" width="10" height="10" rx="1.2"/><rect x="310.7" y="541.7" width="10" height="10" rx="1.2"/><rect x="321" y="541.7" width="10" height="10" rx="1.2"/><rect x="327" y="535.4" width="10" height="10" rx="1.2"/><rect x="337.8" y="538.6" width="10" height="10" rx="1.2"/><rect x="343" y="528.1" width="10" height="10" rx="1.2"/><rect x="352" y="536.5" width="10" height="10" rx="1.2"/><rect x="367.7" y="519.8" width="10" height="10" rx="1.2"/><rect x="367" y="531.9" width="10" height="10" rx="1.2"/><rect x="290.8" y="544.8" width="10" height="10" rx="1.2"/><rect x="395.8" y="467.6" width="10" height="10" rx="1.2"/><rect x="409.8" y="505.6" width="10" height="10" rx="1.2"/><rect x="418.8" y="521.4" width="10" height="10" rx="1.2"/><rect x="429.6" y="527.7" width="10" height="10" rx="1.2"/><rect x="426" y="534.4" width="10" height="10" rx="1.2"/><rect x="443.8" y="519.8" width="10" height="10" rx="1.2"/><rect x="443.2" y="529.2" width="10" height="10" rx="1.2"/><rect x="437.6" y="539.6" width="10" height="10" rx="1.2"/><rect x="374.3" y="527" width="10" height="10" rx="1.2"/><rect x="384.7" y="531.9" width="10" height="10" rx="1.2"/><rect x="378.5" y="542.7" width="10" height="10" rx="1.2"/><rect x="403" y="543.4" width="10" height="10" rx="1.2"/><rect x="425" y="544.4" width="10" height="10" rx="1.2"/><rect x="461" y="543.8" width="10" height="10" rx="1.2"/><rect x="452.6" y="545.9" width="10" height="10" rx="1.2"/><rect x="405" y="424" width="10" height="10" rx="1.2"/><rect x="412.2" y="424.6" width="10" height="10" rx="1.2"/><rect x="415.9" y="367" width="10" height="10" rx="1.2"/><rect x="462" y="426" width="10" height="10" rx="1.2"/><rect x="500" y="493.7" width="10" height="10" rx="1.2"/><rect x="503.7" y="515.6" width="10" height="10" rx="1.2"/><rect x="475.1" y="521.4" width="10" height="10" rx="1.2"/><rect x="483.9" y="518.7" width="10" height="10" rx="1.2"/><rect x="491.8" y="531.7" width="10" height="10" rx="1.2"/><rect x="510" y="530.8" width="10" height="10" rx="1.2"/><rect x="480.7" y="542.7" width="10" height="10" rx="1.2"/><rect x="505.8" y="544.8" width="10" height="10" rx="1.2"/><rect x="548.6" y="527.7" width="10" height="10" rx="1.2"/><rect x="552.8" y="533.3" width="10" height="10" rx="1.2"/><rect x="545.5" y="534.4" width="10" height="10" rx="1.2"/><rect x="536" y="542.7" width="10" height="10" rx="1.2"/><rect x="560" y="542.7" width="10" height="10" rx="1.2"/><rect x="465" y="543.8" width="10" height="10" rx="1.2"/><rect x="615.8" y="453.6" width="10" height="10" rx="1.2"/><rect x="655.5" y="459.6" width="10" height="10" rx="1.2"/><rect x="618.9" y="494.7" width="10" height="10" rx="1.2"/><rect x="628.9" y="490.5" width="10" height="10" rx="1.2"/><rect x="636.2" y="496.4" width="10" height="10" rx="1.2"/><rect x="639.4" y="510.4" width="10" height="10" rx="1.2"/><rect x="634.2" y="517.3" width="10" height="10" rx="1.2"/><rect x="643.6" y="515.6" width="10" height="10" rx="1.2"/><rect x="656.5" y="508.9" width="10" height="10" rx="1.2"/><rect x="567.4" y="509.3" width="10" height="10" rx="1.2"/><rect x="573.6" y="504.7" width="10" height="10" rx="1.2"/><rect x="577.8" y="530.6" width="10" height="10" rx="1.2"/><rect x="612.2" y="532.7" width="10" height="10" rx="1.2"/><rect x="618.5" y="530.6" width="10" height="10" rx="1.2"/><rect x="626.2" y="538.6" width="10" height="10" rx="1.2"/><rect x="649.8" y="543.8" width="10" height="10" rx="1.2"/><rect x="562" y="542.7" width="10" height="10" rx="1.2"/><rect x="570.5" y="541.7" width="10" height="10" rx="1.2"/><rect x="581" y="543.8" width="10" height="10" rx="1.2"/><rect x="637.9" y="375.9" width="10" height="10" rx="1.2"/><rect x="641" y="389" width="10" height="10" rx="1.2"/><rect x="648" y="185.9" width="10" height="10" rx="1.2"/><rect x="732.9" y="37" width="10" height="10" rx="1.2"/><rect x="663" y="524" width="10" height="10" rx="1.2"/><rect x="668.6" y="536.5" width="10" height="10" rx="1.2"/><rect x="677" y="521.9" width="10" height="10" rx="1.2"/><rect x="694" y="491.6" width="10" height="10" rx="1.2"/><rect x="692.2" y="503.5" width="10" height="10" rx="1.2"/><rect x="696.8" y="521.9" width="10" height="10" rx="1.2"/><rect x="694.7" y="537.5" width="10" height="10" rx="1.2"/><rect x="704" y="532.7" width="10" height="10" rx="1.2"/><rect x="709.9" y="539" width="10" height="10" rx="1.2"/><rect x="716.5" y="512" width="10" height="10" rx="1.2"/><rect x="719" y="508" width="10" height="10" rx="1.2"/><rect x="720.8" y="527" width="10" height="10" rx="1.2"/><rect x="723.9" y="532.7" width="10" height="10" rx="1.2"/><rect x="741.6" y="494.7" width="10" height="10" rx="1.2"/><rect x="745.8" y="529.8" width="10" height="10" rx="1.2"/><rect x="739.6" y="541.7" width="10" height="10" rx="1.2"/><rect x="746.9" y="540.6" width="10" height="10" rx="1.2"/><rect x="752.6" y="518.7" width="10" height="10" rx="1.2"/><rect x="736.9" y="429.8" width="10" height="10" rx="1.2"/><rect x="683" y="397.9" width="10" height="10" rx="1.2"/><rect x="688.4" y="549" width="10" height="10" rx="1.2"/><rect x="756.8" y="467" width="10" height="10" rx="1.2"/><rect x="777.7" y="487.4" width="10" height="10" rx="1.2"/><rect x="792.8" y="488.5" width="10" height="10" rx="1.2"/><rect x="809" y="463.8" width="10" height="10" rx="1.2"/><rect x="816.1" y="438" width="10" height="10" rx="1.2"/><rect x="822" y="471.8" width="10" height="10" rx="1.2"/><rect x="829.3" y="479.7" width="10" height="10" rx="1.2"/><rect x="825.7" y="484.7" width="10" height="10" rx="1.2"/><rect x="842.9" y="502.7" width="10" height="10" rx="1.2"/><rect x="847.8" y="522.2" width="10" height="10" rx="1.2"/><rect x="772.9" y="519.8" width="10" height="10" rx="1.2"/><rect x="790.7" y="528.1" width="10" height="10" rx="1.2"/><rect x="800" y="532.3" width="10" height="10" rx="1.2"/><rect x="784.4" y="538.6" width="10" height="10" rx="1.2"/><rect x="795.9" y="540.6" width="10" height="10" rx="1.2"/><rect x="804.2" y="541.7" width="10" height="10" rx="1.2"/><rect x="817.8" y="538.6" width="10" height="10" rx="1.2"/><rect x="835.6" y="534.4" width="10" height="10" rx="1.2"/><rect x="842.9" y="537.5" width="10" height="10" rx="1.2"/><rect x="761.4" y="540.6" width="10" height="10" rx="1.2"/><rect x="769" y="395.8" width="10" height="10" rx="1.2"/><rect x="774.9" y="356.8" width="10" height="10" rx="1.2"/><rect x="834.2" y="425.7" width="10" height="10" rx="1.2"/><rect x="868.9" y="489.5" width="10" height="10" rx="1.2"/><rect x="923.2" y="438.8" width="10" height="10" rx="1.2"/><rect x="930.1" y="433.1" width="10" height="10" rx="1.2"/><rect x="940.6" y="451.9" width="10" height="10" rx="1.2"/><rect x="942.6" y="476.5" width="10" height="10" rx="1.2"/><rect x="914.2" y="500" width="10" height="10" rx="1.2"/><rect x="917" y="501" width="10" height="10" rx="1.2"/><rect x="926.7" y="511.6" width="10" height="10" rx="1.2"/><rect x="934.6" y="505.6" width="10" height="10" rx="1.2"/><rect x="943.2" y="517.5" width="10" height="10" rx="1.2"/><rect x="919" y="524" width="10" height="10" rx="1.2"/><rect x="878.3" y="537.5" width="10" height="10" rx="1.2"/><rect x="905.5" y="532.7" width="10" height="10" rx="1.2"/><rect x="900.2" y="539.6" width="10" height="10" rx="1.2"/><rect x="896" y="545.9" width="10" height="10" rx="1.2"/><rect x="917" y="544.8" width="10" height="10" rx="1.2"/><rect x="925.3" y="543.8" width="10" height="10" rx="1.2"/><rect x="938.5" y="543.8" width="10" height="10" rx="1.2"/><rect x="857.4" y="540.6" width="10" height="10" rx="1.2"/><rect x="863.7" y="544.8" width="10" height="10" rx="1.2"/><rect x="909.8" y="375.8" width="10" height="10" rx="1.2"/><rect x="958.4" y="486" width="10" height="10" rx="1.2"/><rect x="965.7" y="483.2" width="10" height="10" rx="1.2"/><rect x="981.8" y="512.5" width="10" height="10" rx="1.2"/><rect x="967.8" y="525.6" width="10" height="10" rx="1.2"/><rect x="945.9" y="538.6" width="10" height="10" rx="1.2"/><rect x="960.5" y="540.6" width="10" height="10" rx="1.2"/><rect x="975" y="544.8" width="10" height="10" rx="1.2"/><rect x="948" y="328" width="10" height="10" rx="1.2"/><rect x="953" y="215" width="10" height="10" rx="1.2"/><rect x="954.9" y="376" width="10" height="10" rx="1.2"/><rect x="950" y="554" width="10" height="10" rx="1.2"/><rect x="984.5" y="556.3" width="10" height="10" rx="1.2"/><rect x="936.5" y="559.4" width="10" height="10" rx="1.2"/><rect x="646.7" y="549" width="10" height="10" rx="1.2"/><rect x="543" y="543" width="10" height="10" rx="1.2"/><rect x="551" y="545" width="10" height="10" rx="1.2"/><rect x="556" y="540" width="10" height="10" rx="1.2"/><rect x="547" y="548" width="10" height="10" rx="1.2"/>
</g>
<rect x="588" y="89.6" width="148" height="26.4" fill="#fff"/>
<g>
<text x="140.2" y="409.3" textLength="76.1" lengthAdjust="spacingAndGlyphs">3926.90</text>
<text x="257.3" y="434.3" textLength="76.5" lengthAdjust="spacingAndGlyphs">6110.30</text>
<text x="338.5" y="427.6" textLength="76" lengthAdjust="spacingAndGlyphs">6204.62</text>
<text x="385.2" y="355.9" textLength="75.8" lengthAdjust="spacingAndGlyphs">6404.19</text>
<text x="448.2" y="414.7" textLength="76.1" lengthAdjust="spacingAndGlyphs">7113.19</text>
<text x="475.2" y="78.5" textLength="139.9" lengthAdjust="spacingAndGlyphs">8471.30 7.36%</text>
<text x="747.1" y="38" textLength="76.3" lengthAdjust="spacingAndGlyphs">8517.62</text>
<text x="670" y="198.1" textLength="76.5" lengthAdjust="spacingAndGlyphs">8473.30</text>
<text x="876.3" y="210.1" textLength="76.5" lengthAdjust="spacingAndGlyphs">9503.00</text>
<text x="8" y="29.3" textLength="59.6" lengthAdjust="spacingAndGlyphs">2.50%</text>
<text x="8" y="139.5" textLength="59.6" lengthAdjust="spacingAndGlyphs">2.00%</text>
<text x="8" y="249.5" textLength="59.6" lengthAdjust="spacingAndGlyphs">1.50%</text>
<text x="8" y="359.5" textLength="59.6" lengthAdjust="spacingAndGlyphs">1.00%</text>
<text x="8" y="469.5" textLength="59.6" lengthAdjust="spacingAndGlyphs">0.50%</text>
<text x="8" y="579.5" textLength="59.6" lengthAdjust="spacingAndGlyphs">0.00%</text>
<text x="78.4" y="28.9" textLength="131.4" lengthAdjust="spacingAndGlyphs" style="font-size:20px">proportion of</text>
<text x="79" y="58.6" textLength="124" lengthAdjust="spacingAndGlyphs" style="font-size:20px">total exports</text>
<text x="590.1" y="111.6" textLength="139.1" lengthAdjust="spacingAndGlyphs">8517.12 7.16%</text>
<text transform="translate(97.8,661.6) rotate(-90)" x="0" y="0" textLength="72.3" lengthAdjust="spacingAndGlyphs">0304.61</text>
<text transform="translate(130.3,661.6) rotate(-90)" x="0" y="0" textLength="72.3" lengthAdjust="spacingAndGlyphs">2924.29</text>
<text transform="translate(162.8,661.6) rotate(-90)" x="0" y="0" textLength="72.3" lengthAdjust="spacingAndGlyphs">3304.99</text>
<text transform="translate(195.3,661.6) rotate(-90)" x="0" y="0" textLength="72.3" lengthAdjust="spacingAndGlyphs">3926.20</text>
<text transform="translate(227.8,661.6) rotate(-90)" x="0" y="0" textLength="72.3" lengthAdjust="spacingAndGlyphs">4409.21</text>
<text transform="translate(260.3,661.6) rotate(-90)" x="0" y="0" textLength="72.3" lengthAdjust="spacingAndGlyphs">4823.90</text>
<text transform="translate(292.8,661.6) rotate(-90)" x="0" y="0" textLength="72.3" lengthAdjust="spacingAndGlyphs">6104.44</text>
<text transform="translate(325.3,661.6) rotate(-90)" x="0" y="0" textLength="72.3" lengthAdjust="spacingAndGlyphs">6115.95</text>
<text transform="translate(357.8,661.6) rotate(-90)" x="0" y="0" textLength="72.3" lengthAdjust="spacingAndGlyphs">6204.44</text>
<text transform="translate(390.3,661.6) rotate(-90)" x="0" y="0" textLength="72.3" lengthAdjust="spacingAndGlyphs">6302.31</text>
<text transform="translate(422.8,661.6) rotate(-90)" x="0" y="0" textLength="72.3" lengthAdjust="spacingAndGlyphs">6403.91</text>
<text transform="translate(455.3,661.6) rotate(-90)" x="0" y="0" textLength="72.3" lengthAdjust="spacingAndGlyphs">6910.10</text>
<text transform="translate(487.8,661.6) rotate(-90)" x="0" y="0" textLength="72.3" lengthAdjust="spacingAndGlyphs">7308.90</text>
<text transform="translate(520.3,661.6) rotate(-90)" x="0" y="0" textLength="72.3" lengthAdjust="spacingAndGlyphs">7610.90</text>
<text transform="translate(552.8,661.6) rotate(-90)" x="0" y="0" textLength="72.3" lengthAdjust="spacingAndGlyphs">8302.49</text>
<text transform="translate(585.3,661.6) rotate(-90)" x="0" y="0" textLength="72.3" lengthAdjust="spacingAndGlyphs">8414.90</text>
<text transform="translate(617.8,661.6) rotate(-90)" x="0" y="0" textLength="72.3" lengthAdjust="spacingAndGlyphs">8425.49</text>
<text transform="translate(650.3,661.6) rotate(-90)" x="0" y="0" textLength="72.3" lengthAdjust="spacingAndGlyphs">8471.50</text>
<text transform="translate(682.8,661.6) rotate(-90)" x="0" y="0" textLength="72.3" lengthAdjust="spacingAndGlyphs">8501.40</text>
<text transform="translate(715.3,661.6) rotate(-90)" x="0" y="0" textLength="72.3" lengthAdjust="spacingAndGlyphs">8511.40</text>
<text transform="translate(747.8,661.6) rotate(-90)" x="0" y="0" textLength="72.3" lengthAdjust="spacingAndGlyphs">8517.69</text>
<text transform="translate(780.3,661.6) rotate(-90)" x="0" y="0" textLength="72.3" lengthAdjust="spacingAndGlyphs">8528.52</text>
<text transform="translate(812.8,661.6) rotate(-90)" x="0" y="0" textLength="72.3" lengthAdjust="spacingAndGlyphs">8541.40</text>
<text transform="translate(845.3,661.6) rotate(-90)" x="0" y="0" textLength="72.3" lengthAdjust="spacingAndGlyphs">8708.50</text>
<text transform="translate(877.8,661.6) rotate(-90)" x="0" y="0" textLength="72.3" lengthAdjust="spacingAndGlyphs">9004.90</text>
<text transform="translate(910.3,661.6) rotate(-90)" x="0" y="0" textLength="72.3" lengthAdjust="spacingAndGlyphs">9031.80</text>
<text transform="translate(942.8,661.6) rotate(-90)" x="0" y="0" textLength="72.3" lengthAdjust="spacingAndGlyphs">9403.60</text>
<text transform="translate(975.3,661.6) rotate(-90)" x="0" y="0" textLength="72.3" lengthAdjust="spacingAndGlyphs">9506.29</text>
</g>
<g stroke="#00a2d1" stroke-width="1.5" fill="#00a2d1">
<path d="M619.5 85V31"/><path d="M715.4 85V31"/>
</g>
<g fill="#00a2d1">
<path d="M619.5 20.7L625.3 32.3H613.7Z"/><path d="M715.4 20.7L721.2 32.3H709.6Z"/>
</g>
</svg>
</body></html>
